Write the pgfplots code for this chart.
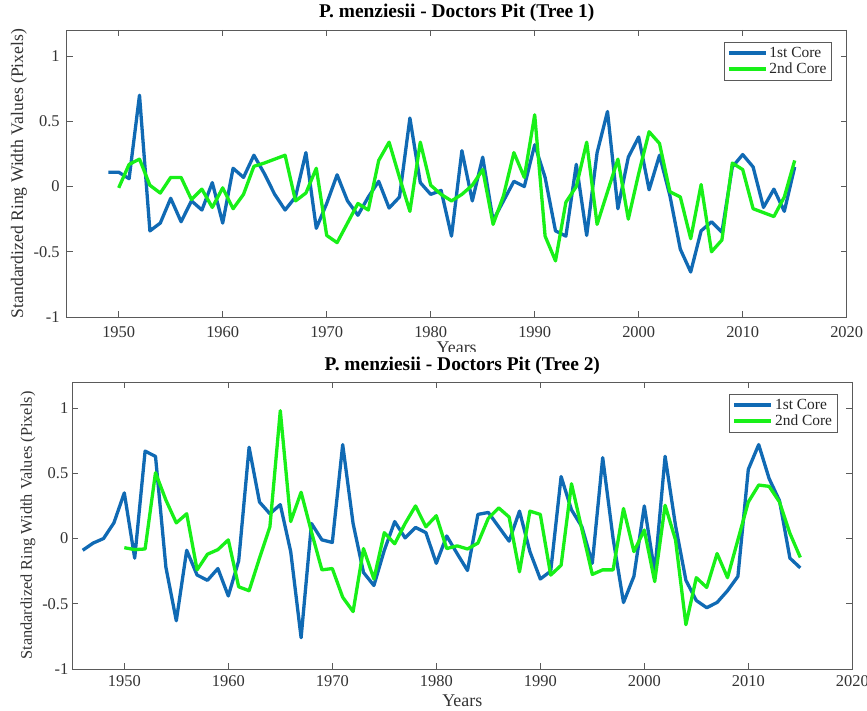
\documentclass[border=0pt]{standalone}
\usepackage{fontspec}
\setmainfont{Liberation Serif}
\usepackage{pgfplots}
\usepackage{pgfplotstable}
\pgfplotsset{compat=1.18}
\definecolor{coreblue}{RGB}{16,106,180}
\definecolor{coregreen}{RGB}{24,240,24}
\definecolor{axgray}{RGB}{90,90,90}

\pgfplotstableread{
year val
1949 0.11
1950 0.11
1951 0.06
1952 0.70
1953 -0.34
1954 -0.28
1955 -0.09
1956 -0.27
1957 -0.11
1958 -0.18
1959 0.03
1960 -0.28
1961 0.14
1962 0.07
1963 0.24
1964 0.10
1965 -0.06
1966 -0.18
1967 -0.08
1968 0.26
1969 -0.32
1970 -0.13
1971 0.09
1972 -0.11
1973 -0.22
1974 -0.08
1975 0.04
1976 -0.165
1977 -0.08
1978 0.525
1979 0.03
1980 -0.06
1981 -0.03
1982 -0.38
1983 0.275
1984 -0.11
1985 0.225
1986 -0.26
1987 -0.11
1988 0.04
1989 0.0
1990 0.32
1991 0.07
1992 -0.34
1993 -0.38
1994 0.17
1995 -0.375
1996 0.26
1997 0.575
1998 -0.17
1999 0.225
2000 0.38
2001 -0.025
2002 0.24
2003 -0.07
2004 -0.48
2005 -0.655
2006 -0.34
2007 -0.27
2008 -0.35
2009 0.15
2010 0.245
2011 0.15
2012 -0.16
2013 -0.02
2014 -0.19
2015 0.15
}\treeAblue

\pgfplotstableread{
year val
1950 -0.01
1951 0.17
1952 0.21
1953 0.01
1954 -0.05
1955 0.07
1956 0.07
1957 -0.10
1958 -0.02
1959 -0.16
1960 -0.01
1961 -0.17
1962 -0.06
1963 0.155
1964 0.18
1965 0.21
1966 0.24
1967 -0.11
1968 -0.05
1969 0.14
1970 -0.375
1971 -0.43
1972 -0.28
1973 -0.13
1974 -0.18
1975 0.20
1976 0.34
1977 0.07
1978 -0.19
1979 0.34
1980 0.01
1981 -0.06
1982 -0.11
1983 -0.06
1984 0.01
1985 0.13
1986 -0.29
1987 -0.07
1988 0.26
1989 0.07
1990 0.55
1991 -0.38
1992 -0.57
1993 -0.12
1994 0.0
1995 0.34
1996 -0.29
1997 -0.04
1998 0.21
1999 -0.25
2000 0.10
2001 0.42
2002 0.33
2003 -0.04
2004 -0.08
2005 -0.40
2006 0.015
2007 -0.50
2008 -0.41
2009 0.18
2010 0.13
2011 -0.17
2012 -0.20
2013 -0.23
2014 -0.08
2015 0.20
}\treeAgreen

\pgfplotstableread{
year val
1946 -0.09
1947 -0.035
1948 0.0
1949 0.12
1950 0.35
1951 -0.15
1952 0.67
1953 0.63
1954 -0.22
1955 -0.63
1956 -0.09
1957 -0.28
1958 -0.32
1959 -0.23
1960 -0.44
1961 -0.17
1962 0.70
1963 0.28
1964 0.19
1965 0.26
1966 -0.10
1967 -0.76
1968 0.115
1969 -0.01
1970 -0.03
1971 0.72
1972 0.115
1973 -0.26
1974 -0.36
1975 -0.09
1976 0.13
1977 0.005
1978 0.085
1979 0.045
1980 -0.19
1981 0.02
1982 -0.115
1983 -0.245
1984 0.185
1985 0.20
1986 0.09
1987 -0.02
1988 0.21
1989 -0.10
1990 -0.31
1991 -0.25
1992 0.475
1993 0.22
1994 0.09
1995 -0.19
1996 0.62
1997 0.0
1998 -0.49
1999 -0.29
2000 0.25
2001 -0.26
2002 0.63
2003 0.10
2004 -0.32
2005 -0.475
2006 -0.53
2007 -0.49
2008 -0.40
2009 -0.29
2010 0.53
2011 0.72
2012 0.46
2013 0.29
2014 -0.15
2015 -0.225
}\treeBblue

\pgfplotstableread{
year val
1950 -0.07
1951 -0.085
1952 -0.08
1953 0.505
1954 0.295
1955 0.12
1956 0.19
1957 -0.24
1958 -0.12
1959 -0.085
1960 -0.01
1961 -0.37
1962 -0.40
1963 -0.15
1964 0.09
1965 0.98
1966 0.13
1967 0.355
1968 0.05
1969 -0.24
1970 -0.23
1971 -0.45
1972 -0.56
1973 -0.077
1974 -0.31
1975 0.045
1976 -0.04
1977 0.115
1978 0.25
1979 0.09
1980 0.175
1981 -0.077
1982 -0.056
1983 -0.08
1984 -0.035
1985 0.155
1986 0.235
1987 0.165
1988 -0.255
1989 0.21
1990 0.185
1991 -0.28
1992 -0.205
1993 0.42
1994 0.07
1995 -0.275
1996 -0.24
1997 -0.24
1998 0.23
1999 -0.10
2000 0.065
2001 -0.33
2002 0.255
2003 -0.01
2004 -0.66
2005 -0.30
2006 -0.375
2007 -0.115
2008 -0.30
2009 -0.01
2010 0.28
2011 0.41
2012 0.40
2013 0.28
2014 0.04
2015 -0.145
}\treeBgreen

\pgfplotsset{
  myax/.style={
    scale only axis,
    width=780bp, height=287bp,
    xmin=1945, xmax=2020, ymin=-1, ymax=1.2,
    xtick={1950,1960,1970,1980,1990,2000,2010,2020},
    xticklabels={1950,1960,1970,1980,1990,2000,2010,2020},
    ytick={-1,-0.5,0,0.5,1},
    yticklabels={-1,-0.5,0,0.5,1},
    tick align=inside, tick pos=both,
    major tick length=6bp,
    axis line style={axgray, line width=0.8bp},
    every tick/.style={axgray, line width=0.8bp},
    ticklabel style={font=\fontsize{16.5}{18}\selectfont, text=black!80},
    title style={font=\bfseries\fontsize{19.5}{21}\selectfont, at={(0.5,1)}, anchor=base},
    xlabel={Years},
    xlabel style={font=\fontsize{18}{20}\selectfont, at={(0.5,0)}, anchor=base, text=black!80},
    ylabel={Standardized Ring Width Values (Pixels)},
    ylabel style={text=black!80},
    legend cell align=left,
    legend style={draw=axgray, line width=0.8bp, font=\fontsize{15.5}{17}\selectfont,
      at={(0.981,0.959)}, anchor=north east, inner xsep=3bp, inner ysep=3bp,
      row sep=0bp, text=black!85},
    legend image code/.code={\draw[#1, line width=3.3bp] (0bp,0bp) -- (37bp,0bp);},
    every axis plot/.append style={line width=3.3bp, line join=round},
  }
}

\begin{document}
\begin{tikzpicture}
\useasboundingbox (0,0) rectangle (867bp,711bp);
\fill[white] (0,0) rectangle (867bp,711bp);
% top panel
\begin{axis}[myax,
  at={(66.7bp,394bp)}, anchor=south west,
  title={P. menziesii - Doctors Pit (Tree 1)},
  title style={yshift=7bp},
  xlabel style={yshift=-37bp},
  ylabel style={font=\fontsize{17.7}{19}\selectfont},
  xticklabel style={yshift=-6bp},
  yticklabel style={xshift=-3.5bp},
]
\addplot[coreblue, no markers] table[x=year,y=val] {\treeAblue};
\addlegendentry{1st Core}
\addplot[coregreen, no markers] table[x=year,y=val] {\treeAgreen};
\addlegendentry{2nd Core}
\end{axis}
% bottom panel
\begin{axis}[myax,
  at={(72.3bp,42bp)}, anchor=south west,
  title={P. menziesii - Doctors Pit (Tree 2)},
  title style={yshift=5.5bp, fill=white, text height=19bp, text depth=3bp, inner xsep=3bp, inner ysep=0bp},
  xlabel style={yshift=-37bp},
  ylabel style={font=\fontsize{16.4}{18}\selectfont},
  xticklabel style={yshift=-3.5bp},
  yticklabel style={xshift=-0.5bp},
]
\addplot[coreblue, no markers] table[x=year,y=val] {\treeBblue};
\addlegendentry{1st Core}
\addplot[coregreen, no markers] table[x=year,y=val] {\treeBgreen};
\addlegendentry{2nd Core}
\end{axis}
\end{tikzpicture}
\end{document}
